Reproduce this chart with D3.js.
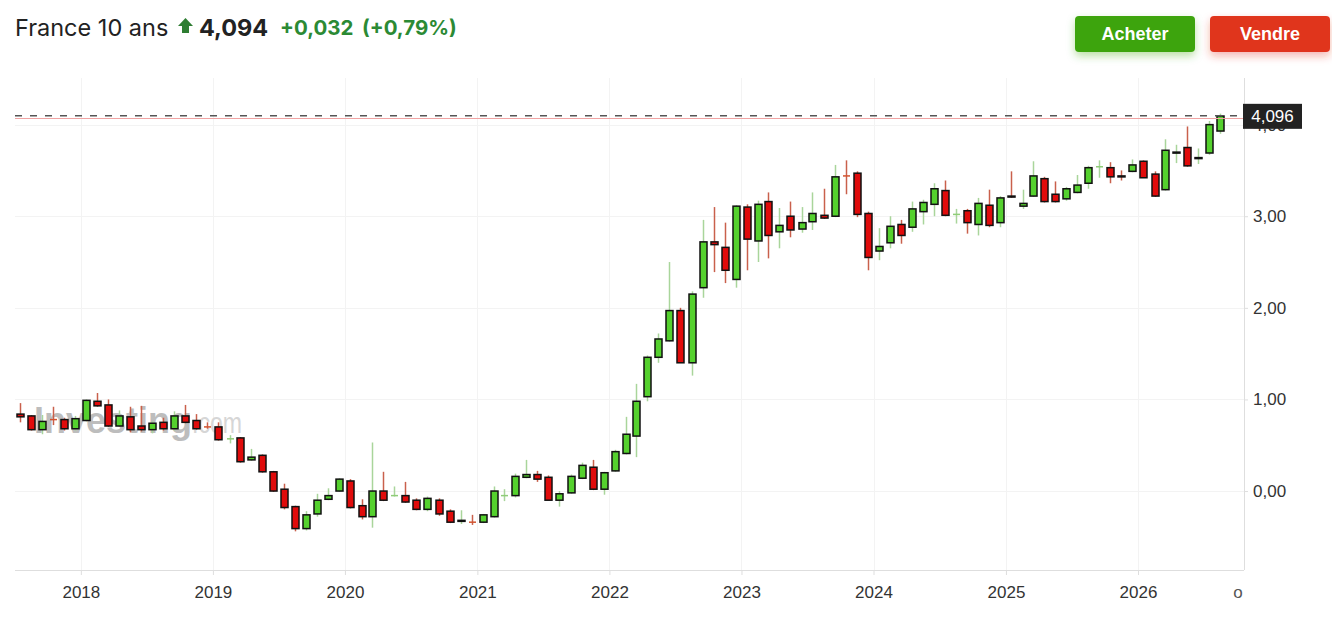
<!DOCTYPE html>
<html>
<head>
<meta charset="utf-8">
<script src="https://cdn.jsdelivr.net/npm/d3@7"></script>
<style>
  body { margin: 0; background: #fff; }
  svg { display: block; }
</style>
</head>
<body>
<svg id="chart" width="1332" height="618"></svg>
<script>
// monthly candles, France 10 ans
const months = [
    "2017-07", "2017-08", "2017-09", "2017-10", "2017-11", "2017-12",
    "2018-01", "2018-02", "2018-03", "2018-04", "2018-05", "2018-06", "2018-07", "2018-08", "2018-09", "2018-10", "2018-11", "2018-12",
    "2019-01", "2019-02", "2019-03", "2019-04", "2019-05", "2019-06", "2019-07", "2019-08", "2019-09", "2019-10", "2019-11", "2019-12",
    "2020-01", "2020-02", "2020-03", "2020-04", "2020-05", "2020-06", "2020-07", "2020-08", "2020-09", "2020-10", "2020-11", "2020-12",
    "2021-01", "2021-02", "2021-03", "2021-04", "2021-05", "2021-06", "2021-07", "2021-08", "2021-09", "2021-10", "2021-11", "2021-12",
    "2022-01", "2022-02", "2022-03", "2022-04", "2022-05", "2022-06", "2022-07", "2022-08", "2022-09", "2022-10", "2022-11", "2022-12",
    "2023-01", "2023-02", "2023-03", "2023-04", "2023-05", "2023-06", "2023-07", "2023-08", "2023-09", "2023-10", "2023-11", "2023-12",
    "2024-01", "2024-02", "2024-03", "2024-04", "2024-05", "2024-06", "2024-07", "2024-08", "2024-09", "2024-10", "2024-11", "2024-12",
    "2025-01", "2025-02", "2025-03", "2025-04", "2025-05", "2025-06", "2025-07", "2025-08", "2025-09", "2025-10", "2025-11", "2025-12",
    "2026-01", "2026-02", "2026-03", "2026-04", "2026-05", "2026-06", "2026-07", "2026-08"
]
const opens = [
    0.84, 0.82, 0.67, 0.785, 0.78, 0.68,
    0.77, 0.98, 0.94, 0.71, 0.81, 0.71, 0.67, 0.75, 0.68, 0.82, 0.77, 0.705,
    0.70, 0.565, 0.58, 0.34, 0.39, 0.21, 0.02, -0.17, -0.41, -0.25, -0.09, 0.00,
    0.11, -0.16, -0.28, 0.00, -0.055, -0.05, -0.10, -0.20, -0.10, -0.22, -0.33, -0.335,
    -0.34, -0.28, -0.055, -0.05, 0.15, 0.18, 0.15, -0.10, -0.02, 0.14, 0.26, 0.02,
    0.22, 0.41, 0.60, 1.03, 1.46, 1.64, 1.97, 1.40, 2.22, 2.72, 2.66, 2.31,
    3.10, 2.73, 3.16, 2.83, 3.00, 2.86, 2.94, 3.01, 3.00, 3.445, 3.47, 3.03,
    2.62, 2.71, 2.91, 2.88, 3.05, 3.13, 3.28, 3.015, 3.06, 2.91, 3.12, 2.93,
    3.22, 3.11, 3.22, 3.41, 3.24, 3.19, 3.26, 3.36, 3.535, 3.53, 3.44, 3.49,
    3.60, 3.46, 3.29, 3.69, 3.75, 3.63, 3.69, 3.93
]
const highs = [
    0.96, 0.83, 0.83, 0.92, 0.80, 0.82,
    1.00, 1.07, 1.00, 0.88, 0.92, 0.93, 0.76, 0.80, 0.87, 0.94, 0.84, 0.75,
    0.75, 0.61, 0.59, 0.46, 0.40, 0.22, 0.08, -0.16, -0.22, -0.03, 0.03, 0.14,
    0.13, -0.09, 0.53, 0.21, 0.05, 0.10, -0.08, -0.06, -0.08, -0.20, -0.21, -0.26,
    -0.25, 0.05, 0.02, 0.19, 0.34, 0.22, 0.17, 0.00, 0.18, 0.31, 0.34, 0.21,
    0.45, 0.81, 1.17, 1.48, 1.72, 2.50, 2.00, 2.18, 2.96, 3.10, 2.93, 3.12,
    3.13, 3.17, 3.26, 3.09, 3.16, 3.10, 3.26, 3.30, 3.56, 3.61, 3.49, 3.05,
    2.87, 3.00, 2.96, 3.16, 3.18, 3.36, 3.39, 3.08, 3.08, 3.20, 3.29, 3.22,
    3.49, 3.29, 3.60, 3.43, 3.38, 3.32, 3.45, 3.55, 3.61, 3.59, 3.50, 3.62,
    3.61, 3.49, 3.84, 3.78, 3.98, 3.74, 4.04, 4.12
]
const lows = [
    0.75, 0.66, 0.62, 0.72, 0.66, 0.66,
    0.76, 0.92, 0.70, 0.70, 0.64, 0.65, 0.63, 0.66, 0.66, 0.74, 0.67, 0.68,
    0.55, 0.52, 0.31, 0.33, 0.20, -0.01, -0.20, -0.44, -0.43, -0.28, -0.10, -0.01,
    -0.19, -0.31, -0.40, -0.11, -0.06, -0.13, -0.21, -0.22, -0.27, -0.35, -0.36, -0.37,
    -0.35, -0.29, -0.11, -0.07, 0.14, 0.10, -0.10, -0.17, -0.03, 0.13, 0.01, -0.04,
    0.21, 0.40, 0.37, 0.98, 1.40, 1.63, 1.40, 1.26, 2.11, 2.39, 2.27, 2.22,
    2.41, 2.50, 2.54, 2.65, 2.77, 2.82, 2.85, 2.97, 2.99, 3.24, 2.99, 2.41,
    2.52, 2.65, 2.70, 2.83, 2.91, 3.00, 3.00, 2.92, 2.81, 2.79, 2.88, 2.88,
    3.20, 3.08, 3.21, 3.15, 3.15, 3.17, 3.25, 3.30, 3.42, 3.36, 3.39, 3.48,
    3.42, 3.21, 3.28, 3.58, 3.54, 3.57, 3.67, 3.90
]
const closes = [
    0.81, 0.67, 0.76, 0.78, 0.68, 0.79,
    0.99, 0.93, 0.71, 0.82, 0.67, 0.67, 0.74, 0.68, 0.82, 0.75, 0.68, 0.70,
    0.56, 0.57, 0.32, 0.37, 0.21, 0.00, -0.18, -0.41, -0.26, -0.10, -0.05, 0.13,
    -0.18, -0.28, 0.00, -0.10, -0.05, -0.12, -0.20, -0.08, -0.25, -0.34, -0.32, -0.34,
    -0.26, 0.00, -0.05, 0.16, 0.18, 0.13, -0.10, -0.03, 0.16, 0.28, 0.02, 0.20,
    0.43, 0.62, 0.98, 1.46, 1.66, 1.97, 1.40, 2.15, 2.72, 2.69, 2.41, 3.11,
    2.75, 3.13, 2.79, 2.90, 2.85, 2.93, 3.03, 2.98, 3.43, 3.44, 3.02, 2.55,
    2.67, 2.89, 2.79, 3.08, 3.15, 3.30, 3.01, 3.02, 2.93, 3.14, 2.90, 3.20,
    3.21, 3.14, 3.44, 3.16, 3.16, 3.30, 3.34, 3.53, 3.54, 3.43, 3.43, 3.56,
    3.42, 3.22, 3.72, 3.70, 3.55, 3.64, 4.00, 4.094
]
const yTicks = [0, 1, 2, 3, 4]
const yearTicks = ["2018", "2019", "2020", "2021", "2022", "2023", "2024", "2025", "2026"]
const lastValue = 4.094
const markerValue = 4.096

const parseMonth = d3.timeParse("%Y-%m")
const parseYear = d3.timeParse("%Y")
const candles = months.map((m, i) => ({
    date: d3.timeDay.offset(parseMonth(m), 15),
    open: opens[i], high: highs[i], low: lows[i], close: closes[i]
}))

const frLocale = d3.formatLocale({decimal: ",", thousands: " ", grouping: [3], currency: ["", " €"]})
const fmt2 = frLocale.format(".2f")
const fmt3 = frLocale.format(".3f")

const svg = d3.select("#chart")
const plotLeft = 15, plotRight = 1244, plotTop = 78, plotBottom = 570

const x = d3.scaleTime()
    .domain([new Date(2017, 6, 3), new Date(2026, 9, 21)])
    .range([plotLeft, plotRight])
const y = d3.scaleLinear()
    .domain([-0.862, 4.509])
    .range([plotBottom, plotTop])

const defs = svg.append("defs")
const shadow = (id, color) => {
    const f = defs.append("filter").attr("id", id)
        .attr("x", "-30%").attr("y", "-40%").attr("width", "160%").attr("height", "200%")
    f.append("feDropShadow")
        .attr("dx", 0).attr("dy", 4).attr("stdDeviation", 4)
        .attr("flood-color", color).attr("flood-opacity", 0.35)
}
shadow("shGreen", "#3ca40f")
shadow("shRed", "#e0351e")

// header
const header = svg.append("g").attr("font-family", "Inter, 'Noto Sans', sans-serif")
header.append("text")
    .attr("x", 15).attr("y", 36)
    .attr("font-size", 23.5).attr("fill", "#222")
    .text("France 10 ans")
header.append("path")
    .attr("d", "M185.5,18 L193,26 L189,26 L189,33 L182,33 L182,26 L178,26 Z")
    .attr("fill", "#2e7d32")
header.append("text")
    .attr("x", 199).attr("y", 36)
    .attr("font-size", 23.5).attr("font-weight", 700).attr("fill", "#222")
    .text(fmt3(lastValue))
header.append("text")
    .attr("x", 280).attr("y", 35)
    .attr("font-size", 20.5).attr("font-weight", 700).attr("fill", "#2b8a34")
    .text("+0,032")
header.append("text")
    .attr("x", 362).attr("y", 35)
    .attr("font-size", 20.5).attr("font-weight", 700).attr("fill", "#2b8a34")
    .text("(+0,79%)")

// buttons
const buttons = [
    {label: "Acheter", x: 1075, fill: "#3ca40f", filter: "url(#shGreen)"},
    {label: "Vendre", x: 1210, fill: "#e0351e", filter: "url(#shRed)"}
]
const btn = svg.append("g").selectAll("g").data(buttons).join("g")
btn.append("rect")
    .attr("x", d => d.x).attr("y", 16).attr("width", 120).attr("height", 36).attr("rx", 4)
    .attr("fill", d => d.fill).attr("filter", d => d.filter)
btn.append("text")
    .attr("x", d => d.x + 60).attr("y", 40)
    .attr("text-anchor", "middle")
    .attr("font-family", "'Liberation Sans', Arial, sans-serif")
    .attr("font-size", 18).attr("font-weight", 700).attr("fill", "#fff")
    .text(d => d.label)

// grid
const grid = svg.append("g")
grid.selectAll("line.h").data(yTicks).join("line")
    .attr("x1", plotLeft).attr("x2", plotRight)
    .attr("y1", d => Math.round(y(d)) + 0.5).attr("y2", d => Math.round(y(d)) + 0.5)
    .attr("stroke", "#f3f3f3")
grid.selectAll("line.v").data(yearTicks).join("line")
    .attr("x1", d => Math.round(x(parseYear(d))) + 0.5).attr("x2", d => Math.round(x(parseYear(d))) + 0.5)
    .attr("y1", plotTop).attr("y2", plotBottom)
    .attr("stroke", "#f3f3f3")

// watermark
const wm = svg.append("text")
    .attr("x", 34).attr("y", 433)
    .attr("font-family", "'Liberation Sans', Arial, sans-serif")
    .attr("font-size", 36).attr("font-weight", 700).attr("fill", "#bdbdbd")
wm.append("tspan").text("Investing")
wm.append("tspan")
    .attr("font-size", 30).attr("font-weight", 400).attr("fill", "#d6d6d6")
    .attr("textLength", 50).attr("lengthAdjust", "spacingAndGlyphs")
    .text(".com")

// axes
const xAxis = d3.axisBottom(x)
    .tickValues(yearTicks.map(parseYear))
    .tickFormat(d3.timeFormat("%Y"))
    .tickSize(5).tickPadding(11)
const gx = svg.append("g").attr("transform", `translate(0,${plotBottom})`).call(xAxis)
gx.select(".domain").attr("stroke", "#dedede").attr("d", `M${plotLeft},0.5H${plotRight}`)
gx.selectAll(".tick line").attr("stroke", "#dedede")
gx.selectAll(".tick text")
    .attr("font-family", "'Liberation Sans', Arial, sans-serif")
    .attr("font-size", 17).attr("fill", "#333")
gx.append("text")
    .attr("x", 1238).attr("y", 28)
    .attr("text-anchor", "middle")
    .attr("font-family", "'Liberation Sans', Arial, sans-serif")
    .attr("font-size", 17).attr("fill", "#555")
    .text("o")

const yAxis = d3.axisRight(y)
    .tickValues(yTicks)
    .tickFormat(fmt2)
    .tickSize(4).tickPadding(5)
const gy = svg.append("g").attr("transform", `translate(${plotRight},0)`).call(yAxis)
gy.select(".domain").attr("stroke", "#dedede").attr("d", `M0.5,${plotTop}V${plotBottom}`)
gy.selectAll(".tick line").attr("stroke", "#dedede")
gy.selectAll(".tick text")
    .attr("font-family", "'Liberation Sans', Arial, sans-serif")
    .attr("font-size", 17).attr("fill", "#333")

// candles
const bodyW = 7
const up = d => d.close >= d.open
const doji = d => Math.abs(d.close - d.open) < 0.008
const g = svg.append("g")
const c = g.selectAll("g").data(candles).join("g")
    .attr("transform", d => `translate(${Math.round(x(d.date)) + 0.5},0)`)
c.append("line")
    .attr("y1", d => y(d.high)).attr("y2", d => y(d.low))
    .attr("stroke", d => up(d) ? "#a9d59b" : "#c9604c")
    .attr("stroke-width", 1.5)
c.filter(doji).append("line")
    .attr("x1", -bodyW / 2).attr("x2", bodyW / 2)
    .attr("y1", d => y(d.close)).attr("y2", d => y(d.close))
    .attr("stroke", d => up(d) ? "#8fcc78" : "#d2532f")
    .attr("stroke-width", 1.5)
c.filter(d => !doji(d)).append("rect")
    .attr("x", -bodyW / 2)
    .attr("y", d => y(Math.max(d.open, d.close)))
    .attr("width", bodyW)
    .attr("height", d => Math.max(1, Math.abs(y(d.open) - y(d.close))))
    .attr("fill", d => up(d) ? "#55d12e" : "#e00b0b")
    .attr("stroke", "#111")
    .attr("stroke-width", 1.5)

// last price lines + marker
svg.append("line")
    .attr("x1", plotLeft).attr("x2", plotRight)
    .attr("y1", y(lastValue) + 2.5).attr("y2", y(lastValue) + 2.5)
    .attr("stroke", "#f0a3a3").attr("stroke-width", 1)
svg.append("line")
    .attr("x1", plotLeft).attr("x2", plotRight)
    .attr("y1", y(markerValue)).attr("y2", y(markerValue))
    .attr("stroke", "#555").attr("stroke-width", 1.5)
    .attr("stroke-dasharray", "7,8")
svg.append("rect")
    .attr("x", plotRight - 1).attr("y", y(markerValue) - 12)
    .attr("width", 59).attr("height", 25)
    .attr("fill", "#222")
svg.append("text")
    .attr("x", plotRight + 28.5).attr("y", y(markerValue) + 6)
    .attr("text-anchor", "middle")
    .attr("font-family", "'Liberation Sans', Arial, sans-serif")
    .attr("font-size", 17).attr("fill", "#fff")
    .text(fmt3(markerValue))
</script>
</body>
</html>
